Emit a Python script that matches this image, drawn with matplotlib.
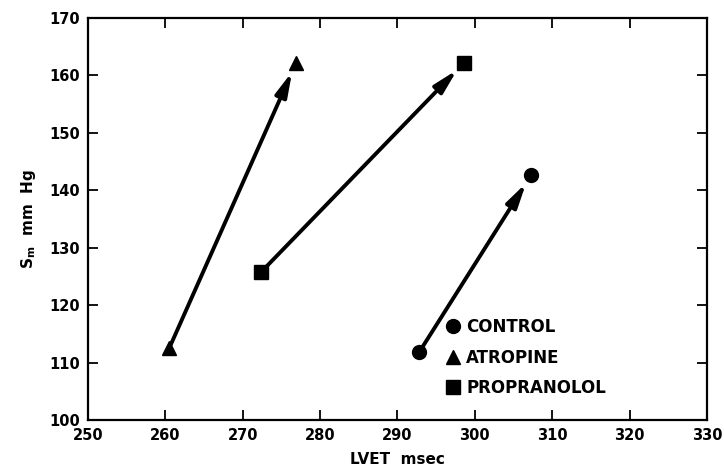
import matplotlib.pyplot as plt

# start/end points for each condition (LVET msec, Sm mm Hg)
control_x = [292.8, 307.3]
control_y = [111.8, 142.7]
atropine_x = [260.5, 276.9]
atropine_y = [112.5, 162.2]
propranolol_x = [272.4, 298.6]
propranolol_y = [125.8, 162.2]

labels = ['CONTROL', 'ATROPINE', 'PROPRANOLOL']
markers = ['o', '^', 's']

fig = plt.figure(figsize=(7.24, 4.74), dpi=100)
ax = fig.add_axes([0.1215, 0.1139, 0.855, 0.8481])

series = [(control_x, control_y), (atropine_x, atropine_y), (propranolol_x, propranolol_y)]
for (xs, ys), lab, m in zip(series, labels, markers):
    ax.annotate('', xy=(xs[1], ys[1]), xytext=(xs[0], ys[0]),
                arrowprops=dict(arrowstyle='-|>,head_length=0.9,head_width=0.22',
                                color='black', lw=2.8, mutation_scale=16,
                                shrinkA=0, shrinkB=7))
    ax.plot(xs, ys, linestyle='none', marker=m, color='black', markersize=10, label=lab)

ax.set_xlim(250, 330)
ax.set_ylim(100, 170)
ax.set_xticks(range(250, 331, 10))
ax.set_yticks(range(100, 171, 10))
ax.tick_params(direction='in', length=7, width=1.3, top=True, right=True,
               labelsize=10.5, pad=6)
for lab in ax.get_xticklabels() + ax.get_yticklabels():
    lab.set_fontweight('bold')
for s in ax.spines.values():
    s.set_linewidth(1.6)

ax.set_xlabel('LVET  msec', fontsize=11, fontweight='bold', labelpad=6)
ax.set_ylabel(r'S$_\mathbf{m}$  mm  Hg', fontsize=11, fontweight='bold', labelpad=8)

ax.legend(loc='upper left', frameon=False, handletextpad=0.3, labelspacing=0.75,
          prop={'weight': 'bold', 'size': 12}, bbox_to_anchor=(0.565, 0.27),
          handlelength=1.0, borderaxespad=0)

fig.savefig('out.png', dpi=100)
